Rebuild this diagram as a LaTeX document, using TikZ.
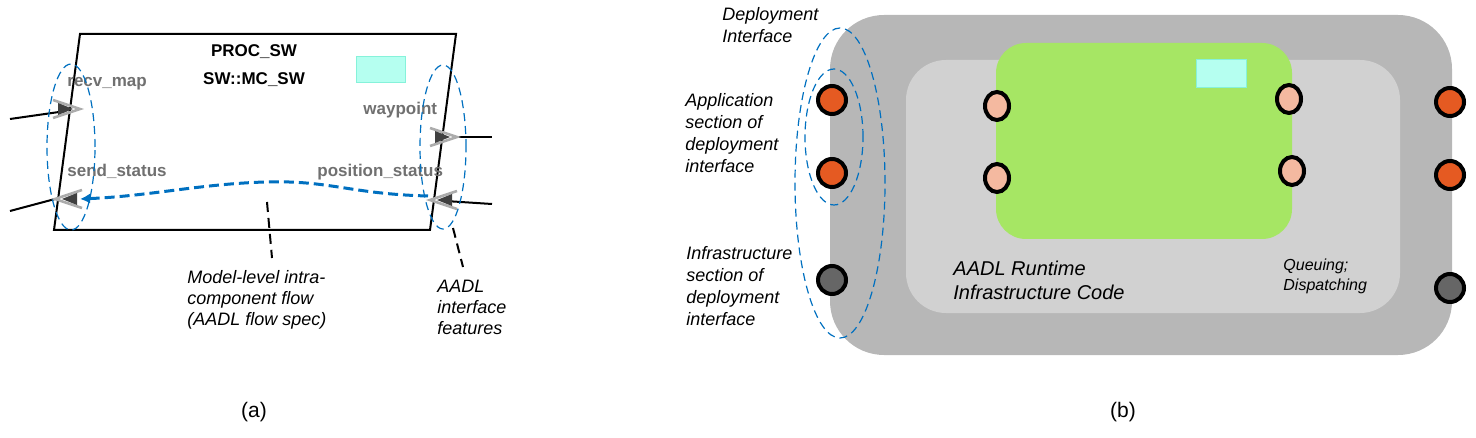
\documentclass[tikz,border=0pt]{standalone}
\usepackage{fontspec}
\setmainfont{Liberation Sans}
\usetikzlibrary{shapes.geometric,arrows.meta}

\definecolor{flowblue}{HTML}{0070C0}
\definecolor{outergray}{HTML}{B7B7B7}
\definecolor{innergray}{HTML}{D1D1D1}
\definecolor{appgreen}{HTML}{A6E664}
\definecolor{markcyan}{HTML}{B5FFF0}
\definecolor{markedge}{HTML}{86F2DA}
\definecolor{peach}{HTML}{F4B9A0}
\definecolor{portorange}{HTML}{E55A22}
\definecolor{portgray}{HTML}{666666}
\definecolor{namegray}{HTML}{707070}

\tikzset{
  note/.style={font=\itshape\fontsize{9}{11}\selectfont, align=left, anchor=base west, inner sep=0pt},
  portname/.style={font=\bfseries\fontsize{8.5}{10}\selectfont, text=namegray, anchor=base west, inner sep=0pt},
  wire/.style={line width=1pt, black},
  chev/.style={line width=1.3pt, gray!65},
  chevfill/.style={fill=black!75},
  leader/.style={line width=1pt, dash pattern=on 5pt off 3pt},
  groupline/.style={draw=flowblue, line width=0.6pt, dash pattern=on 4pt off 2.5pt, ellipse, inner sep=0pt},
  flowline/.style={flowblue, line width=1.5pt, dash pattern=on 5pt off 2.5pt, -{Latex[length=5pt,width=5pt]}},
  extport/.style={circle, draw=black, line width=2pt, minimum width=13pt, minimum height=14pt, inner sep=0pt},
  appport/.style={ellipse, draw=black, line width=2pt, fill=peach, minimum width=12pt, minimum height=14pt, inner sep=0pt},
  marker/.style={draw=markedge, fill=markcyan, line width=0.4pt, inner sep=0pt}
}

\begin{document}
\begin{tikzpicture}[x=0.5pt, y=-0.5pt]
    \useasboundingbox (0,0) rectangle (1476,438);

    % (a) the AADL process
    \draw[line width=1pt] (80,34) -- (456,34) -- (430,230) -- (54,230) -- cycle;
    \node[font=\bfseries\fontsize{8.5}{10}\selectfont, anchor=base] (procname) at (254,57) {PROC\_SW};
    \node[font=\bfseries\fontsize{8.5}{10}\selectfont, anchor=base] (proctype) at (254,85) {SW::MC\_SW};
    \node[marker, minimum width=24.5pt, minimum height=13pt] (procmark) at (380.5,69) {};

    \coordinate (recv) at (80,109);
    \coordinate (send) at (55,199);
    \coordinate (wayp) at (457,137);
    \coordinate (posst) at (430,200);
    \coordinate (recvext) at (10,119);
    \coordinate (sendext) at (10,211);
    \coordinate (waypext) at (492,137);
    \coordinate (posstext) at (492,204);

    \draw[wire, shorten >=7pt] (recvext) -- (recv);
    \draw[wire] (sendext) -- (send);
    \draw[wire] (wayp) -- (waypext);
    \draw[wire, shorten <=7pt] (posst) -- (posstext);

    \draw[chev] (recv) ++(-27,-9) -- (recv) -- ++(-27,9);
    \fill[chevfill] (recv) ++(-7,0) -- ++(-15,-6) -- ++(0,12) -- cycle;
    \draw[chev] (wayp) ++(-27,-9) -- (wayp) -- ++(-27,9);
    \fill[chevfill] (wayp) ++(-7,0) -- ++(-15,-6) -- ++(0,12) -- cycle;
    \draw[chev] (send) ++(27,-9) -- (send) -- ++(27,9);
    \fill[chevfill] (send) ++(7,0) -- ++(15,-6) -- ++(0,12) -- cycle;
    \draw[chev] (posst) ++(27,-9) -- (posst) -- ++(27,9);
    \fill[chevfill] (posst) ++(7,0) -- ++(15,-6) -- ++(0,12) -- cycle;

    \node[portname] (recvname) at (67,87) {recv\_map};
    \node[portname] (sendname) at (67,177) {send\_status};
    \node[portname] (waypname) at (363,115) {waypoint};
    \node[portname] (posstname) at (317,177) {position\_status};

    \node[groupline, minimum width=24pt, minimum height=83pt] (leftfeat) at (71,147) {};
    \node[groupline, minimum width=23pt, minimum height=82pt] (rightfeat) at (443,147) {};

    \coordinate (flowstart) at (428,196);
    \coordinate (flowend) at (80,199);
    \draw[flowline] (flowstart) .. controls (350,194) and (330,180) .. (265,182)
        .. controls (200,184) and (150,196) .. (flowend);

    \coordinate (flowmid) at (267,202);
    \coordinate (flowtip) at (272,258);
    \coordinate (featmid) at (453,228);
    \coordinate (feattip) at (463,267);
    \draw[leader] (flowmid) -- (flowtip);
    \draw[leader] (featmid) -- (feattip);
    \node[note, font=\itshape\fontsize{9}{10.5}\selectfont] (flownote) at (187,325) {Model-level intra-\\component flow\\(AADL flow spec)};
    \node[note, font=\itshape\fontsize{9}{10.5}\selectfont] (featnote) at (437,334) {AADL\\interface\\features};

    % (b) the runtime code
    \node[fill=outergray, rounded corners=27pt, minimum width=311pt, minimum height=170pt, inner sep=0pt] (rtcode) at (1141,185) {};
    \node[fill=innergray, rounded corners=20pt, minimum width=247pt, minimum height=126.5pt, inner sep=0pt] (infra) at (1153,186.5) {};
    \node[fill=appgreen, rounded corners=15pt, minimum width=148pt, minimum height=98pt, inner sep=0pt] (appcomp) at (1144,141) {};
    \node[marker, minimum width=25pt, minimum height=14pt] (appmark) at (1221,73) {};

    \node[appport] (appin1) at (997,106) {};
    \node[appport] (appin2) at (997,178) {};
    \node[appport] (appout1) at (1289,99) {};
    \node[appport] (appout2) at (1292,171) {};

    \node[extport, fill=portorange] (depin1) at (832,100) {};
    \node[extport, fill=portorange] (depin2) at (832,173) {};
    \node[extport, fill=portgray] (infin) at (832,280) {};
    \node[extport, fill=portorange] (depout1) at (1450,102) {};
    \node[extport, fill=portorange] (depout2) at (1450,175) {};
    \node[extport, fill=portgray] (infout) at (1450,288) {};

    \node[groupline, minimum width=45pt, minimum height=155pt] (depif) at (840,183) {};
    \node[groupline, minimum width=29pt, minimum height=68pt] (appsec) at (834,137) {};

    \node[note] (depifnote) at (722,43) {Deployment\\Interface};
    \node[note] (appsecnote) at (685,173) {Application\\section of\\deployment\\interface};
    \node[note] (infsecnote) at (686,325) {Infrastructure\\section of\\deployment\\interface};
    \node[note, font=\itshape\fontsize{10}{12}\selectfont] (infranote) at (953,299) {AADL Runtime\\Infrastructure Code};
    \node[note, font=\itshape\fontsize{8}{9.5}\selectfont] (queuenote) at (1283,290) {Queuing;\\Dispatching};

    \node[font=\fontsize{10.5}{12}\selectfont, anchor=base] (capa) at (254,417) {(a)};
    \node[font=\fontsize{10.5}{12}\selectfont, anchor=base] (capb) at (1123,417) {(b)};
\end{tikzpicture}
\end{document}
